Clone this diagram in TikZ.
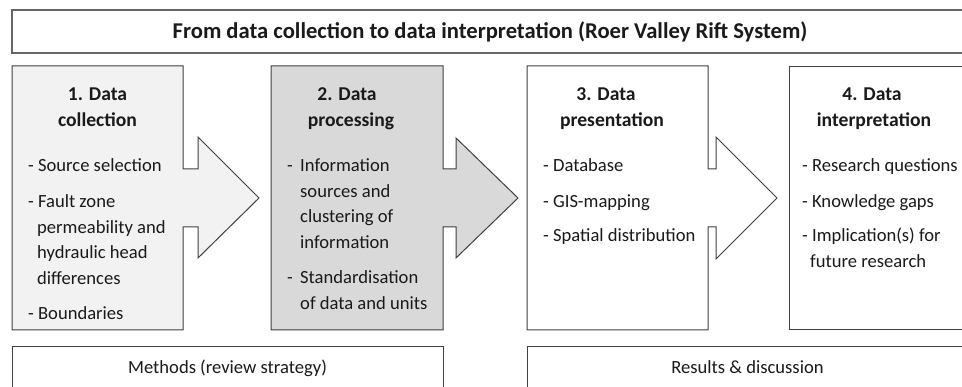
\documentclass[tikz,border=0pt]{standalone}
\usepackage{fontspec}
\setmainfont{Carlito}
\definecolor{edge}{HTML}{404040}
\definecolor{fillA}{HTML}{F2F2F2}
\definecolor{fillB}{HTML}{D9D9D9}
\definecolor{ink}{HTML}{1A1A1A}
\begin{document}
\begin{tikzpicture}[x=1pt,y=-1pt,
  shapeline/.style={draw=edge,line width=1pt,line join=miter},
  titleline/.style={draw=edge!80,line width=1.6pt},
  body/.style={anchor=base west,inner sep=0pt,text=ink,font=\fontsize{18.6}{22}\selectfont},
  head/.style={anchor=base,inner sep=0pt,text=ink,font=\fontsize{19.6}{22}\selectfont\bfseries},
  titletext/.style={anchor=base,inner sep=0pt,text=ink,font=\fontsize{22.6}{26}\selectfont\bfseries},
  plain/.style={anchor=base,inner sep=0pt,text=ink,font=\fontsize{18.6}{22}\selectfont}]
\useasboundingbox (0,0) rectangle (962,387);
\clip (0,0) rectangle (962,387);
\fill[white] (0,0) rectangle (962,387);
% title
\draw[titleline] (12,10) rectangle (975,53);
\node[titletext] (title) at (490,39) {From data collection to data interpretation (Roer Valley Rift System)};
% box 1
\draw[shapeline,fill=fillA] (12,66) -- (183,66) -- (183,169) -- (198,169) -- (198,137) -- (259,198) -- (198,258) -- (198,227) -- (183,227) -- (183,330) -- (12,330) -- cycle;
% box 2
\draw[shapeline,fill=fillB] (271,66) -- (443,66) -- (443,169) -- (456,169) -- (456,138) -- (518,198) -- (456,258) -- (456,227) -- (443,227) -- (443,330) -- (271,330) -- cycle;
% box 3
\draw[shapeline,fill=white] (527,66) -- (708,66) -- (708,169) -- (716,169) -- (716,137) -- (777,198) -- (716,259) -- (716,227) -- (708,227) -- (708,330) -- (527,330) -- cycle;
% box 4
\draw[shapeline,fill=white] (789,67) rectangle (975,330);
% bottom boxes
\draw[shapeline] (12,347) rectangle (443,400);
\draw[shapeline] (527,347) rectangle (975,400);
% headings
\node[head] (h1a) at (97.5,101) {1. Data};
\node[head] (h1b) at (97.5,127) {collection};
\node[head] (h2a) at (347,101) {2. Data};
\node[head] (h2b) at (351,127) {processing};
\node[head] (h3a) at (606,101) {3. Data};
\node[head] (h3b) at (612,127) {presentation};
\node[head] (h4a) at (872,101) {4. Data};
\node[head] (h4b) at (874,127) {interpretation};
% box 1 body
\node[body] (b1a) at (28,172) {- Source selection};
\node[body] (b1b) at (28,208) {- Fault zone};
\node[body] (b1c) at (37,233.5) {permeability and};
\node[body] (b1d) at (37,259) {hydraulic head};
\node[body] (b1e) at (37,284.5) {differences};
\node[body] (b1f) at (28,320) {- Boundaries};
% box 2 body
\node[body] (b2d1) at (287,172) {-};
\node[body] (b2a) at (300,172) {Information};
\node[body] (b2b) at (300,197.5) {sources and};
\node[body] (b2c) at (300,223) {clustering of};
\node[body] (b2e) at (300,248.5) {information};
\node[body] (b2d2) at (287,284) {-};
\node[body] (b2f) at (300,284) {Standardisation};
\node[body] (b2g) at (300,309.5) {of data and units};
% box 3 body
\node[body] (b3a) at (543,172) {- Database};
\node[body] (b3b) at (543,208) {- GIS-mapping};
\node[body] (b3c) at (543,242) {- Spatial distribution};
% box 4 body
\node[body] (b4a) at (802,172) {- Research questions};
\node[body] (b4b) at (802,208) {- Knowledge gaps};
\node[body] (b4c) at (802,242) {- Implication(s) for};
\node[body] (b4d) at (810,268) {future research};
% bottom labels
\node[plain] (meth) at (227.5,374) {Methods (review strategy)};
\node[plain] (res) at (747.5,374) {Results \& discussion};
\end{tikzpicture}
\end{document}
